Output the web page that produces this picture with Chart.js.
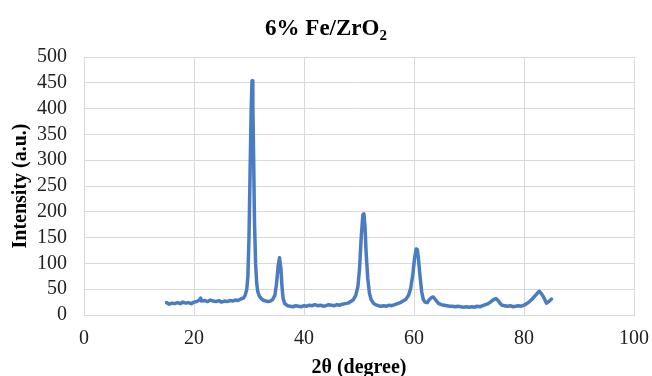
<!DOCTYPE html>
<html>
<head>
<meta charset="utf-8">
<script src="https://cdn.jsdelivr.net/npm/chart.js@4/dist/chart.umd.min.js"></script>
<style>
  html, body { margin: 0; padding: 0; background: #ffffff; }
  #wrap { position: relative; width: 652px; height: 376px; }
  #title { position: absolute; left: 0; top: 15px; width: 652px; text-align: center; line-height: 26px;
           font: bold 23px "Liberation Serif", "Times New Roman", serif; color: #000; }
  #title sub { font-size: 15px; vertical-align: -5px; line-height: 0; }
</style>
</head>
<body>
<div id="wrap">
  <canvas id="c" width="652" height="376"></canvas>
  <div id="title">6% Fe/ZrO<sub>2</sub></div>
</div>
<script>
// 2θ positions (degree)
const twoTheta = [
  15.0,15.5,16.0,16.5,17.0,17.5,18.0,18.5,19.0,19.5,20.0,20.5,21.0,21.2,21.4,22.0,22.5,23.0,23.5,24.0,
  24.5,25.0,25.5,26.0,26.5,27.0,27.5,28.0,28.5,29.0,29.3,29.6,29.8,30.0,30.2,30.4,30.55,30.7,30.85,31.0,
  31.2,31.4,31.6,31.9,32.3,32.7,33.1,33.5,33.9,34.3,34.7,35.0,35.3,35.55,35.8,36.0,36.2,36.5,37.0,37.5,
  38.0,38.5,39.0,39.5,40.0,40.5,41.0,41.5,42.0,42.5,43.0,43.5,44.0,44.5,45.0,45.5,46.0,46.5,47.0,47.5,
  48.0,48.5,49.0,49.4,49.8,50.1,50.4,50.7,50.9,51.1,51.3,51.6,51.9,52.2,52.6,53.0,53.5,54.0,54.5,55.0,
  55.5,56.0,56.5,57.0,57.5,58.0,58.5,59.0,59.4,59.8,60.1,60.4,60.6,60.8,61.1,61.4,61.7,62.0,62.4,62.8,
  63.2,63.5,63.8,64.1,64.5,65.0,65.5,66.0,66.5,67.0,67.5,68.0,68.5,69.0,69.5,70.0,70.5,71.0,71.5,72.0,
  72.5,73.0,73.5,74.0,74.5,74.9,75.3,75.7,76.0,76.5,77.0,77.5,78.0,78.5,79.0,79.5,80.0,80.5,81.0,81.5,
  82.0,82.4,82.8,83.1,83.5,84.1,84.6,85.0
];
// Intensity (a.u.)
const intensity = [
  24,21,23,22,24,22,25,23,24,22,25,26,29,33,27,28,26,29,27,26,
  28,25,27,26,28,27,29,28,31,33,38,50,75,150,280,400,454,410,300,180,
  100,62,45,36,31,28,27,26,27,30,38,60,95,111,90,55,32,22,18,17,
  16,18,17,16,18,17,19,18,20,18,19,17,18,20,19,18,20,19,21,22,
  23,26,30,38,55,90,150,194,196,170,120,70,42,30,23,20,18,17,18,17,
  19,18,20,22,24,27,30,38,52,80,110,128,127,110,75,45,30,25,24,30,
  34,35,31,27,22,20,19,18,17,17,16,17,16,15,16,15,16,15,17,16,
  18,20,22,26,30,32,28,22,19,18,17,18,16,17,18,17,19,22,26,31,
  37,42,46,42,36,23,27,31
];
// Axis ticks
const xTicks = [0, 20, 40, 60, 80, 100];
const yTicks = [0, 50, 100, 150, 200, 250, 300, 350, 400, 450, 500];

const points = twoTheta.map((x, i) => ({ x: x, y: intensity[i] }));
const serif = '"Liberation Serif", "Times New Roman", serif';
const gridColor = '#d9d9d9';

new Chart(document.getElementById('c'), {
  type: 'line',
  data: {
    datasets: [{
      data: points,
      borderColor: '#4a7cc4',
      borderWidth: 3.5,
      pointRadius: 0,
      tension: 0,
      fill: false,
      borderJoinStyle: 'round',
      borderCapStyle: 'round'
    }]
  },
  options: {
    responsive: false,
    animation: false,
    layout: { padding: { top: 57, right: 18, left: 0, bottom: 0 } },
    plugins: { legend: { display: false }, tooltip: { enabled: false }, title: { display: false } },
    scales: {
      x: {
        type: 'linear',
        min: xTicks[0], max: xTicks[xTicks.length - 1],
        afterBuildTicks: s => { s.ticks = xTicks.map(v => ({ value: v })); },
        afterFit: s => { s.height = 61; s.paddingLeft = 0; s.paddingRight = 0; },
        grid: { color: gridColor, lineWidth: 1, drawTicks: false },
        border: { color: gridColor, width: 1 },
        ticks: { color: '#222', font: { family: serif, size: 20 }, padding: 12, maxRotation: 0, autoSkip: false },
        title: { display: true, text: '2θ (degree)', color: '#000',
                 font: { family: serif, size: 20, weight: 'bold' }, padding: { top: 0, bottom: -4 } }
      },
      y: {
        type: 'linear',
        min: yTicks[0], max: yTicks[yTicks.length - 1],
        afterBuildTicks: s => { s.ticks = yTicks.map(v => ({ value: v })); },
        afterFit: s => { s.width = 84; s.paddingTop = 0; s.paddingBottom = 0; },
        grid: { color: gridColor, lineWidth: 1, drawTicks: false },
        border: { color: gridColor, width: 1 },
        ticks: { color: '#222', font: { family: serif, size: 20 }, padding: 17, autoSkip: false },
        title: { display: true, text: 'Intensity (a.u.)', color: '#000',
                 font: { family: serif, size: 20, weight: 'bold' }, padding: { top: 9, bottom: 0 } }
      }
    }
  }
});
</script>
</body>
</html>
